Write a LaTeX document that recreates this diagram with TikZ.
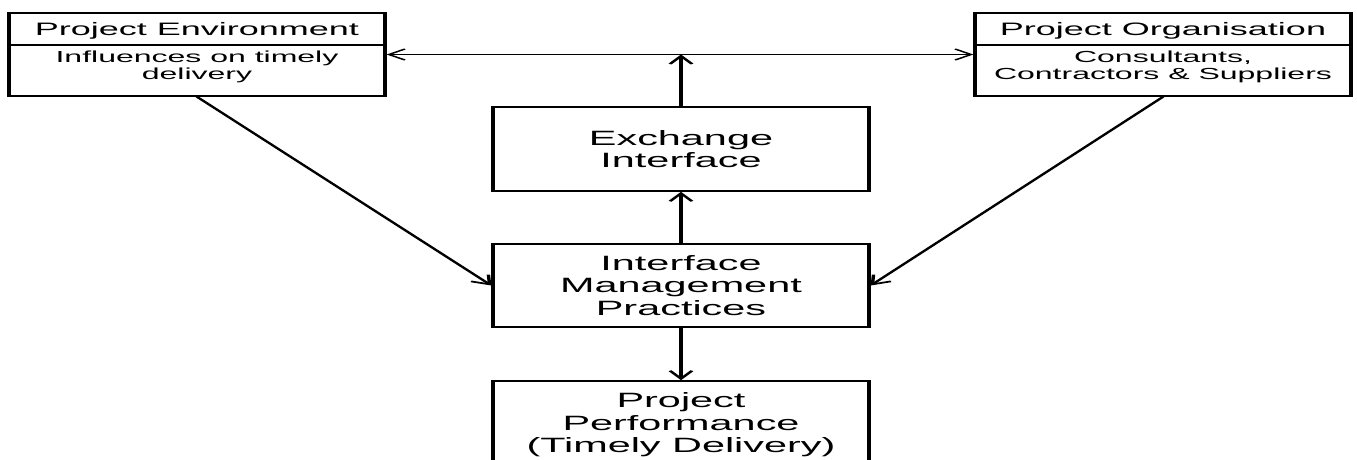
\documentclass[tikz,border=0pt]{standalone}
\usepackage{fontspec}
\setmainfont{Liberation Sans}
\usetikzlibrary{arrows.meta,calc}
\begin{document}
\begin{tikzpicture}[x=1pt,y=-1pt,
  box/.style={draw, line width=1.6pt, inner sep=0pt, minimum width=188pt, align=center},
  toptitle/.style={font=\fontsize{18}{20}\selectfont, inner sep=0pt},
  topbody/.style={font=\fontsize{16}{17}\selectfont, inner sep=0pt, align=center, anchor=north},
  midtext/.style={font=\fontsize{20.7}{22.5}\selectfont},
  tip/.tip={Straight Barb[length=8pt,width=11pt]},
  conn/.style={line width=1.7pt, -tip},
  dconn/.style={line width=1.3pt, tip-tip},
]
\useasboundingbox (0,0) rectangle (1357,459);
\clip (0,0) rectangle (1357,459);
\begin{scope}[transform canvas={xscale=2}]
  % top boxes
  \node[box, minimum height=83pt] (pe) at (98.5,54.5) {};
  \node[box, minimum height=83pt] (po) at (581.5,54.5) {};
  \draw[line width=1.6pt] ($(pe.north west)+(0,33)$) -- ($(pe.north east)+(0,33)$);
  \draw[line width=1.6pt] ($(po.north west)+(0,33)$) -- ($(po.north east)+(0,33)$);
  \node[toptitle] (pet) at ($(pe.north)+(0,18.5)$) {Project Environment};
  \node[topbody] (peb) at ($(pe.north)+(0,38)$) {Influences on timely\\delivery};
  \node[toptitle] (pot) at ($(po.north)+(0,18.5)$) {Project Organisation};
  \node[topbody] (pob) at ($(po.north)+(0,38)$) {Consultants,\\Contractors \& Suppliers};
  % centre boxes
  \node[box, midtext, minimum height=84pt] (ex) at (340.5,149) {Exchange\\Interface};
  \node[box, midtext, minimum height=83pt] (imp) at (340.5,285.5) {Interface\\Management\\Practices};
  \node[box, midtext, minimum height=88pt] (perf) at (340.5,425) {Project\\Performance\\(Timely Delivery)};
  % connectors
  \coordinate (hx) at (ex.north |- pe.east);
  \draw[dconn] (pe.east) -- (po.west);
  \draw[conn] (ex.north) -- (hx);
  \draw[conn] (imp.north) -- (ex.south);
  \draw[conn] (imp.south) -- (perf.north);
  \draw[conn] (pe.south) -- (imp.west);
  \draw[conn] (po.south) -- (imp.east);
\end{scope}
\end{tikzpicture}
\end{document}
